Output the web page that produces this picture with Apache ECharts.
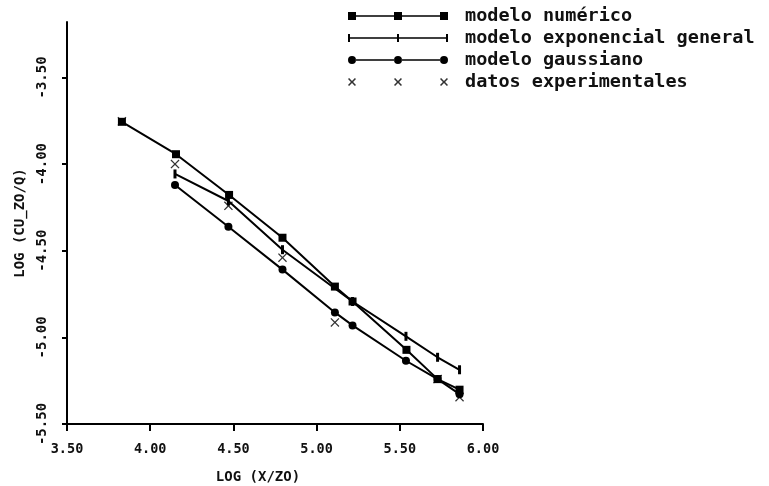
<!DOCTYPE html>
<html>
<head>
<meta charset="utf-8">
<script src="https://cdn.jsdelivr.net/npm/echarts@6/dist/echarts.min.js"></script>
<style>html,body{margin:0;padding:0;background:#fff;}#c{width:769px;height:486px;}</style>
</head>
<body>
<div id="c"></div>
<script>
// LOG (X/ZO) positions and LOG values per series
var xNumerico = [3.83, 4.155, 4.474, 4.795, 5.11, 5.216, 5.54, 5.727, 5.859];
var yNumerico = [-3.756, -3.943, -4.178, -4.425, -4.707, -4.793, -5.072, -5.241, -5.302];

var xExponencial = [4.149, 4.47, 4.795, 5.216, 5.537, 5.727, 5.859];
var yExponencial = [-4.057, -4.213, -4.494, -4.793, -4.994, -5.115, -5.187];

var xGaussiano = [4.149, 4.47, 4.795, 5.11, 5.216, 5.537, 5.727, 5.859];
var yGaussiano = [-4.121, -4.362, -4.609, -4.856, -4.931, -5.135, -5.241, -5.328];

var xExperimental = [3.83, 4.149, 4.47, 4.795, 5.11, 5.727, 5.859];
var yExperimental = [-3.753, -4.0, -4.241, -4.54, -4.914, -5.241, -5.345];

var xTicks = [3.5, 4.0, 4.5, 5.0, 5.5, 6.0];
var yTicks = [-5.5, -5.0, -4.5, -4.0, -3.5];

var seriesNames = ['modelo numérico', 'modelo exponencial general', 'modelo gaussiano', 'datos experimentales'];

function pairs(xs, ys) { return xs.map(function (x, i) { return [x, ys[i]]; }); }

var MONO = "'DejaVu Sans Mono', 'Liberation Mono', monospace";
var crossPath = 'path://M0,1L1,0L5,4L9,0L10,1L6,5L10,9L9,10L5,6L1,10L0,9L4,5Z';
var tickPath = 'path://M0,0L2,0L2,10L0,10Z';

var iconNum = 'path://M0,0L8,0L8,3.2L46,3.2L46,0L54,0L54,3.2L92,3.2L92,0L100,0L100,8L92,8L92,4.8L54,4.8L54,8L46,8L46,4.8L8,4.8L8,8L0,8Z';
var iconExp = 'path://M0,0L2,0L2,3.3L49,3.3L49,0L51,0L51,3.3L98,3.3L98,0L100,0L100,8L98,8L98,4.7L51,4.7L51,8L49,8L49,4.7L2,4.7L2,8L0,8Z';
var iconGau = 'path://M0,4A4,4 0 1 0 8,4A4,4 0 1 0 0,4Z M7.8,3.3L46.2,3.3L46.2,4.7L7.8,4.7Z M46,4A4,4 0 1 0 54,4A4,4 0 1 0 46,4Z M53.8,3.3L92.2,3.3L92.2,4.7L53.8,4.7Z M92,4A4,4 0 1 0 100,4A4,4 0 1 0 92,4Z';
function crossAt(x) {
  return 'M' + x + ',1.1L' + (x + 1.1) + ',0L' + (x + 4) + ',2.9L' + (x + 6.9) + ',0L' + (x + 8) + ',1.1L' + (x + 5.1) + ',4L' + (x + 8) + ',6.9L' + (x + 6.9) + ',8L' + (x + 4) + ',5.1L' + (x + 1.1) + ',8L' + x + ',6.9L' + (x + 2.9) + ',4Z';
}
var iconExpData = 'path://' + crossAt(0) + ' ' + crossAt(46) + ' ' + crossAt(92);

var chart = echarts.init(document.getElementById('c'), null, { renderer: 'canvas' });
var option = {
  backgroundColor: '#fff',
  animation: false,
  grid: { left: 67, right: 286, top: 22, bottom: 62, containLabel: false, outerBoundsMode: 'none' },
  legend: {
    orient: 'vertical',
    left: 343,
    top: 0,
    itemWidth: 100,
    itemHeight: 8,
    itemGap: 0,
    selectedMode: false,
    textStyle: { fontFamily: MONO, fontSize: 18.5, fontWeight: 'bold', color: '#111', lineHeight: 22, padding: [0, 0, 0, 12] },
    data: [
      { name: seriesNames[0], icon: iconNum },
      { name: seriesNames[1], icon: iconExp },
      { name: seriesNames[2], icon: iconGau },
      { name: seriesNames[3], icon: iconExpData }
    ]
  },
  xAxis: {
    type: 'value',
    min: 3.5, max: 6.0, interval: 0.5,
    name: 'LOG (X/ZO)',
    nameLocation: 'middle',
    nameGap: 46,
    nameTextStyle: { fontFamily: MONO, fontSize: 14, fontWeight: 'bold', color: '#111', padding: [0, 34, 0, 0] },
    axisLine: { onZero: false, lineStyle: { color: '#000', width: 2 } },
    axisTick: { inside: false, length: 7, lineStyle: { color: '#000', width: 2 } },
    axisLabel: { margin: 18, fontFamily: MONO, fontSize: 13.5, fontWeight: 'bold', color: '#111',
      formatter: function (v) { return v.toFixed(2); } },
    splitLine: { show: false }
  },
  yAxis: {
    type: 'value',
    min: -5.5, max: -3.18,
    name: 'LOG (CU_ZO/Q)',
    nameLocation: 'middle',
    nameRotate: 90,
    nameGap: 39,
    nameTextStyle: { fontFamily: MONO, fontSize: 14, fontWeight: 'bold', color: '#111' },
    axisLine: { onZero: false, lineStyle: { color: '#000', width: 2 } },
    axisTick: { length: 5, customValues: yTicks, lineStyle: { color: '#000', width: 2 } },
    axisLabel: { customValues: yTicks, rotate: 90, margin: 18, fontFamily: MONO, fontSize: 14, fontWeight: 'bold', color: '#111',
      formatter: function (v) { return (Math.abs(v * 2 - Math.round(v * 2)) < 1e-6) ? v.toFixed(2) : ''; } },
    splitLine: { show: false }
  },
  series: [
    { name: seriesNames[0], type: 'line', data: pairs(xNumerico, yNumerico),
      symbol: 'rect', symbolSize: 8, lineStyle: { color: '#000', width: 2 }, itemStyle: { color: '#000' } },
    { name: seriesNames[1], type: 'line', data: pairs(xExponencial, yExponencial),
      symbol: tickPath, symbolSize: [3, 9], lineStyle: { color: '#000', width: 2 }, itemStyle: { color: '#000' } },
    { name: seriesNames[2], type: 'line', data: pairs(xGaussiano, yGaussiano),
      symbol: 'circle', symbolSize: 8, lineStyle: { color: '#000', width: 2 }, itemStyle: { color: '#000' } },
    { name: seriesNames[3], type: 'scatter', data: pairs(xExperimental, yExperimental),
      symbol: crossPath, symbolSize: 9, itemStyle: { color: '#000' } }
  ]
};
chart.setOption(option);
</script>
</body>
</html>
